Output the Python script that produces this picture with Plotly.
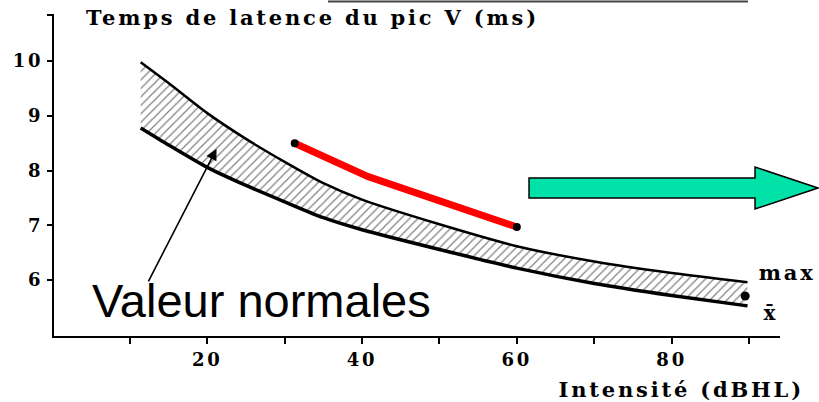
import plotly.graph_objects as go

# Normal range of wave V latency (shaded band), by stimulus intensity
band_db = [11.4, 15, 20, 25, 30, 35, 40, 50, 60, 70, 80, 89.8]
band_max = [9.98, 9.6, 9.05, 8.58, 8.16, 7.77, 7.47, 7.02, 6.62, 6.34, 6.13, 5.96]
band_mean = [8.78, 8.47, 8.06, 7.73, 7.43, 7.14, 6.92, 6.56, 6.22, 5.94, 5.72, 5.53]

# Patient latencies (red)
patient_db = [31.3, 40.8, 60.0]
patient_ms = [8.50, 7.89, 6.97]

# Single measured point at the end of the band
end_db = [89.5]
end_ms = [5.71]

x_ticks = [10, 20, 30, 40, 50, 60, 70, 80, 90]
x_tick_text = ["", "20", "", "40", "", "60", "", "80", ""]
y_ticks = [6, 7, 8, 9, 10, 10.84]
y_tick_text = ["6", "7", "8", "9", "10", ""]

SERIF = dict(family="DejaVu Serif", size=21, color="black", weight="bold")

fig = go.Figure()

fig.add_trace(go.Scatter(
    x=band_db, y=band_mean, mode="lines",
    line=dict(color="black", width=3.5, shape="spline", smoothing=0.6),
    hoverinfo="skip", showlegend=False,
))
fig.add_trace(go.Scatter(
    x=band_db, y=band_max, mode="lines", fill="tonexty",
    fillcolor="white",
    fillpattern=dict(shape="/", fgcolor="black", bgcolor="white", size=6, solidity=0.2),
    line=dict(color="black", width=2.5, shape="spline", smoothing=0.6),
    hoverinfo="skip", showlegend=False,
))

fig.add_trace(go.Scatter(
    x=patient_db, y=patient_ms, mode="lines",
    line=dict(color="#FF0000", width=7),
    showlegend=False,
))
fig.add_trace(go.Scatter(
    x=[patient_db[0], patient_db[-1]], y=[patient_ms[0], patient_ms[-1]], mode="markers",
    marker=dict(color="black", size=8),
    showlegend=False,
))
fig.add_trace(go.Scatter(
    x=end_db, y=end_ms, mode="markers",
    marker=dict(color="black", size=9),
    showlegend=False,
))

# Green block arrow pointing right
arrow_path = ("M0.6543,0.4907 L0.9656,0.4907 L0.9656,0.5248 L1.0523,0.4596 "
              "L0.9656,0.3944 L0.9656,0.4286 L0.6543,0.4286 Z")
fig.add_shape(type="path", path=arrow_path, xref="paper", yref="paper",
              fillcolor="#00E2A8", line=dict(color="black", width=1.5))

# Faint rule along the top edge
fig.add_shape(type="line", xref="paper", yref="paper",
              x0=0.3774, x1=0.9559, y0=1.039, y1=1.039,
              line=dict(color="#444444", width=2))

fig.add_annotation(text="Temps de latence du pic V (ms)", xref="paper", yref="paper",
                   x=0.3554, y=0.9876, xanchor="center", yanchor="middle",
                   showarrow=False, font=SERIF)
fig.add_annotation(text="Intensité (dBHL)", xref="paper", yref="paper",
                   x=0.865, y=-0.1677, xanchor="center", yanchor="middle",
                   showarrow=False, font=SERIF)
fig.add_annotation(text="max", xref="paper", yref="paper",
                   x=1.0105, y=0.1957, xanchor="center", yanchor="middle",
                   showarrow=False, font=dict(SERIF, size=21))
fig.add_annotation(text="x\u0304", xref="paper", yref="paper",
                   x=0.9883, y=0.0714, xanchor="center", yanchor="middle",
                   showarrow=False, font=dict(SERIF, size=20))

fig.add_annotation(text="Valeur normales", xref="paper", yref="paper",
                   x=0.0496, y=0.1087, xanchor="left", yanchor="middle",
                   showarrow=False,
                   font=dict(family="Liberation Sans", size=47, color="black"))
fig.add_annotation(text="", x=21.2, y=8.4, ax=12.3, ay=5.95,
                   xref="x", yref="y", axref="x", ayref="y",
                   showarrow=True, arrowhead=2, arrowsize=1.4, arrowwidth=1.6,
                   arrowcolor="black")

fig.update_xaxes(
    range=[0.2, 94], tickvals=x_ticks, ticktext=x_tick_text,
    showline=True, linecolor="black", linewidth=2,
    ticks="outside", ticklen=6, tickwidth=2, tickcolor="black",
    showgrid=False, zeroline=False,
    tickfont=dict(family="DejaVu Serif", size=18, color="black", weight="bold"),
)
fig.update_yaxes(
    range=[4.98, 10.86], tickvals=y_ticks, ticktext=y_tick_text,
    showline=True, linecolor="black", linewidth=2,
    ticks="outside", ticklen=5, tickwidth=2, tickcolor="black",
    showgrid=False, zeroline=False,
    tickfont=dict(family="DejaVu Serif", size=18, color="black", weight="bold"),
)

fig.update_layout(
    width=819, height=402,
    margin=dict(l=54, r=39, t=14, b=66),
    paper_bgcolor="white", plot_bgcolor="white",
    showlegend=False,
)

# Wide letter spacing for the bold serif labels
spacing_js = """
var gd = document.getElementById('{plot_id}');
gd.querySelectorAll('text').forEach(function (t) {
  var fam = t.style.fontFamily || '';
  if (fam.indexOf('DejaVu Serif') >= 0 && t.style.fontWeight === 'bold') {
    t.style.letterSpacing = '2.8px';
  }
});
"""

fig.write_html("out.html", post_script=spacing_js)
